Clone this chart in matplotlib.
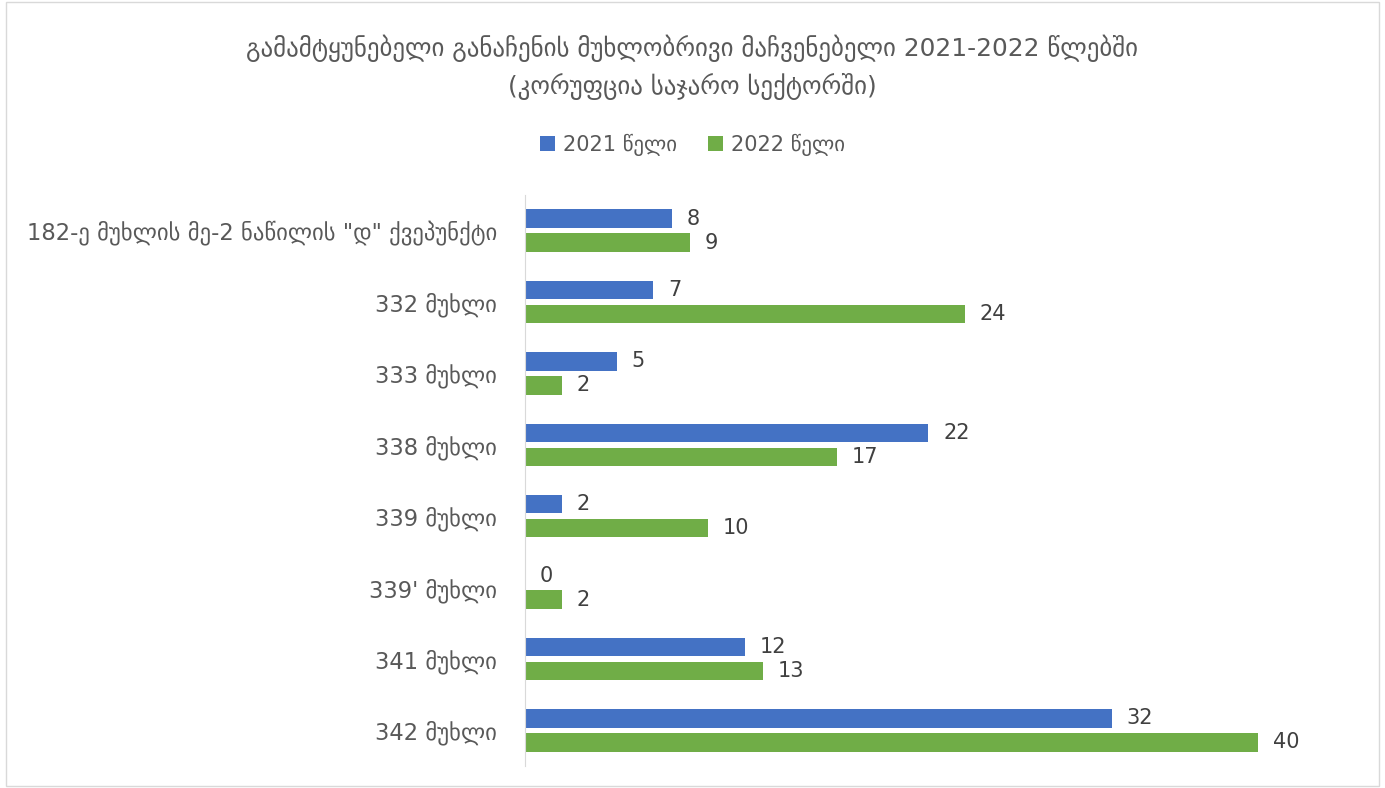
import matplotlib.pyplot as plt
import numpy as np

# --- data ---
categories = [
    '182-ე მუხლის მე-2 ნაწილის "დ" ქვეპუნქტი',
    '332 მუხლი',
    '333 მუხლი',
    '338 მუხლი',
    '339 მუხლი',
    "339' მუხლი",
    '341 მუხლი',
    '342 მუხლი',
]
values_2021 = [8, 7, 5, 22, 2, 0, 12, 32]
values_2022 = [9, 24, 2, 17, 10, 2, 13, 40]
series_names = ['2021 წელი', '2022 წელი']

BLUE = '#4472C4'
GREEN = '#70AD47'
GRAY = '#595959'
FONT = ['DejaVu Sans Condensed', 'DejaVu Sans']

plt.rcParams['font.family'] = FONT

fig = plt.figure(figsize=(13.85, 7.88), dpi=100)
ax = fig.add_axes([525 / 1385, 1 - 766 / 788, (1350 - 525) / 1385, (766 - 195) / 788])

y = np.arange(len(categories))
h = 0.26
off = 0.168
b1 = ax.barh(y - off, values_2021, height=h, color=BLUE, label=series_names[0])
b2 = ax.barh(y + off, values_2022, height=h, color=GREEN, label=series_names[1])

# value labels next to each bar
for bars, vals in ((b1, values_2021), (b2, values_2022)):
    for rect, v in zip(bars, vals):
        ax.text(rect.get_width() + 0.8, rect.get_y() + rect.get_height() / 2, f"{v}",
                va='center', ha='left', fontsize=15, color='#404040')

ax.set_xlim(0, 45)
ax.set_ylim(len(categories) - 0.5, -0.5)
ax.set_yticks(y)
ax.set_yticklabels(categories, fontsize=16.3, color=GRAY)
ax.tick_params(axis='y', length=0, pad=20)
ax.set_xticks([])
for s in ['top', 'right', 'bottom']:
    ax.spines[s].set_visible(False)
ax.spines['left'].set_color('#D9D9D9')

fig.text(0.5, 1 - 48 / 788, 'გამამტყუნებელი განაჩენის მუხლობრივი მაჩვენებელი 2021-2022 წლებში',
         ha='center', va='center', fontsize=17.9, color=GRAY)
fig.text(0.5, 1 - 86 / 788, '(კორუფცია საჯარო სექტორში)',
         ha='center', va='center', fontsize=17.9, color=GRAY)

fig.legend(handles=[b1, b2], loc='center', bbox_to_anchor=(0.5, 1 - 145 / 788),
           ncol=2, frameon=False, fontsize=15, labelcolor=GRAY,
           handlelength=0.7, handleheight=0.7, columnspacing=1.5, handletextpad=0.4)

# outer chart border
fig.add_artist(plt.Rectangle((6 / 1385, 2 / 788), 1 - 12 / 1385, 1 - 4 / 788,
                             transform=fig.transFigure, fill=False, edgecolor='#D9D9D9', lw=1))

fig.savefig('out.png', dpi=100, facecolor='white')
